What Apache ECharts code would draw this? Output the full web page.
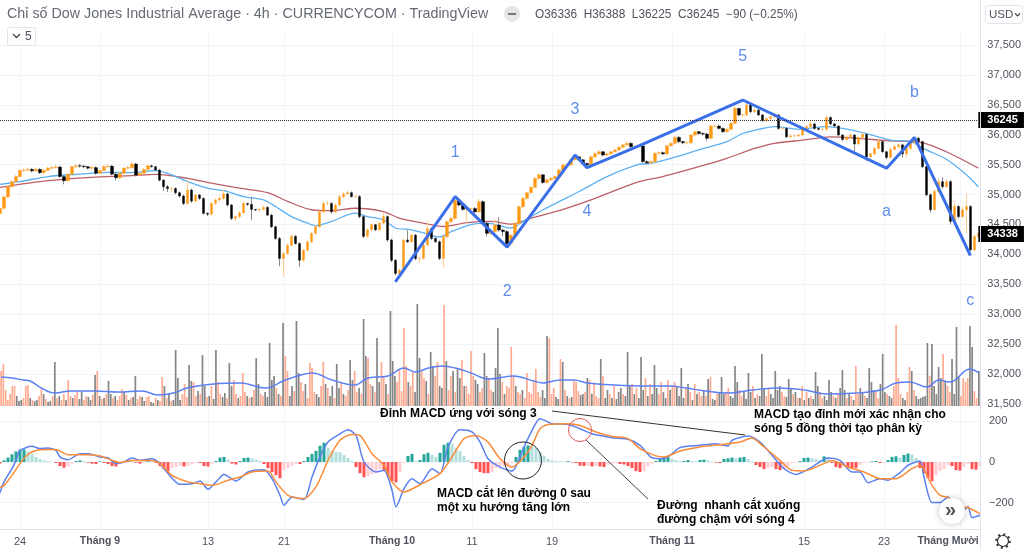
<!DOCTYPE html>
<html><head><meta charset="utf-8">
<style>html,body{margin:0;padding:0;background:#fff}#c{width:1024px;height:550px}</style>
<script src="https://cdn.jsdelivr.net/npm/echarts@6/dist/echarts.min.js"></script>
</head><body><div id="c"></div>
<script>
const closes=[34770,34960,35130,35215,35300,35400,35410,35420,35395,35420,
35365,35405,35440,35450,35460,35300,35230,35340,35465,35480,
35475,35465,35440,35450,35355,35400,35465,35475,35340,35280,
35355,35440,35450,35510,35325,35355,35420,35480,35465,35410,
35240,35130,35100,35100,35030,34975,34850,35075,34890,34990,
34935,34685,34670,34850,34910,34935,35010,34825,34600,34630,
34695,34850,34835,34750,34740,34750,34785,34655,34460,34265,
33930,34010,34150,34300,34180,33900,34070,34210,34350,34460,
34710,34850,34850,34710,34825,34965,35010,35030,34965,34965,
34630,34300,34410,34495,34410,34520,34630,34240,33900,33680,
33735,34240,34210,34320,33930,33930,34155,34430,34265,34210,
33930,34295,34545,34600,34905,34825,34750,34765,34765,34710,
34880,34515,34350,34380,34490,34405,34380,34180,34320,34515,
34795,34935,35030,35120,35270,35330,35200,35245,35270,35300,
35410,35495,35495,35580,35630,35580,35520,35495,35630,35680,
35715,35660,35680,35715,35745,35790,35830,35855,35800,35800,
35810,35550,35530,35550,35690,35700,35680,35815,35855,35955,
35885,35865,35865,35995,36050,36020,36010,35940,36145,36145,
36105,36050,36090,36190,36440,36330,36330,36495,36385,36410,
36330,36235,36270,36300,36330,36105,36105,35965,35980,35980,
35995,36105,36135,36180,36105,36090,36090,36290,36180,36145,
35995,35920,35965,35995,35845,35955,36005,35630,35680,35770,
35885,35715,35620,35755,35800,35830,35680,35770,35865,35940,
35885,35465,34995,34745,35050,35215,35130,35215,34550,34800,
34630,34745,34800,34075,34300,34355];
const opens=[34680,34770,34960,35130,35215,35300,35400,35410,35420,35395,
35420,35365,35405,35440,35450,35460,35300,35230,35340,35465,
35480,35475,35465,35440,35450,35355,35400,35465,35475,35340,
35280,35355,35440,35450,35510,35325,35355,35420,35480,35465,
35410,35240,35130,35100,35100,35030,34975,34850,35075,34890,
34990,34935,34685,34670,34850,34910,34935,35010,34825,34600,
34630,34695,34850,34835,34750,34740,34750,34785,34655,34460,
34265,33930,34010,34150,34300,34180,33900,34070,34210,34350,
34460,34710,34850,34850,34710,34825,34965,35010,35030,34965,
34965,34630,34300,34410,34495,34410,34520,34630,34240,33900,
33680,33735,34240,34210,34320,33930,33930,34155,34430,34265,
34210,33930,34295,34545,34600,34905,34825,34750,34765,34765,
34710,34880,34515,34350,34380,34490,34405,34380,34180,34320,
34515,34795,34935,35030,35120,35270,35330,35200,35245,35270,
35300,35410,35495,35495,35580,35630,35580,35520,35495,35630,
35680,35715,35660,35680,35715,35745,35790,35830,35855,35800,
35800,35810,35550,35530,35550,35690,35700,35680,35815,35855,
35955,35885,35865,35865,35995,36050,36020,36010,35940,36145,
36145,36105,36050,36090,36190,36440,36330,36330,36495,36385,
36410,36330,36235,36270,36300,36330,36105,36105,35965,35980,
35980,35995,36105,36135,36180,36105,36090,36090,36290,36180,
36145,35995,35920,35965,35995,35845,35955,36005,35630,35680,
35770,35885,35715,35620,35755,35800,35830,35680,35770,35865,
35940,35885,35465,34995,34745,35050,35215,35130,35215,34550,
34800,34630,34745,34800,34075,34300];
const highs=[34830,34990,35160,35240,35330,35430,35440,35450,35440,35450,
35440,35430,35470,35480,35500,35480,35320,35360,35480,35510,
35510,35490,35480,35480,35470,35420,35490,35510,35490,35360,
35380,35460,35480,35540,35530,35380,35440,35510,35500,35480,
35430,35260,35160,35130,35120,35050,35000,35240,35100,35010,
35010,34950,34700,34870,34930,34990,35080,35030,34840,34650,
34720,34880,34860,34960,34760,34770,34810,34800,34680,34480,
34290,34040,34180,34330,34320,34200,34090,34230,34370,34490,
34730,34880,34890,34870,34850,34990,35040,35070,35050,34990,
34990,34650,34430,34520,34510,34540,34690,34650,34260,33920,
33760,34260,34400,34350,34340,33960,34180,34560,34450,34290,
34230,34320,34570,34630,34980,34920,34850,34800,34790,34790,
34930,34900,34540,34420,34600,34620,34430,34400,34340,34540,
34820,34960,35050,35140,35290,35350,35340,35270,35290,35320,
35430,35510,35520,35600,35660,35640,35590,35530,35650,35710,
35750,35730,35700,35730,35770,35810,35850,35890,35870,35830,
35830,35830,35570,35570,35710,35730,35720,35830,35880,35980,
35980,35900,35890,36010,36070,36060,36040,36030,36170,36170,
36170,36120,36110,36210,36500,36450,36350,36530,36510,36440,
36430,36350,36290,36320,36370,36350,36130,36120,36000,36000,
36020,36130,36170,36240,36200,36120,36110,36320,36300,36200,
36160,36010,35990,36020,36010,35970,36050,36030,35700,35790,
35950,35900,35730,35780,35830,35850,35850,35790,35890,35960,
35960,35900,35480,35020,35080,35280,35290,35260,35240,34900,
34820,34800,35020,34820,34320,34380];
const lows=[34640,34750,34940,35110,35190,35280,35380,35390,35370,35380,
35340,35350,35390,35420,35430,35280,35170,35210,35320,35450,
35450,35440,35420,35420,35330,35340,35390,35450,35320,35240,
35260,35340,35420,35430,35300,35300,35340,35400,35450,35390,
35220,35060,35040,35040,35000,34950,34820,34830,34860,34870,
34910,34660,34640,34650,34830,34880,34910,34800,34570,34550,
34600,34670,34810,34570,34720,34720,34730,34640,34440,34240,
33800,33620,33990,34130,34160,33790,33880,34040,34180,34330,
34440,34690,34820,34680,34690,34800,34940,34990,34950,34940,
34600,34270,34280,34380,34390,34390,34500,34210,33870,33650,
33660,33710,34190,34190,33900,33850,33910,34130,34240,34190,
33900,33780,34270,34520,34580,34800,34730,34520,34730,34690,
34690,34490,34300,34320,34350,34380,34300,34120,34160,34300,
34490,34770,34910,35000,35100,35250,35180,35180,35220,35250,
35280,35390,35470,35480,35560,35560,35500,35470,35470,35610,
35660,35640,35640,35660,35700,35730,35770,35810,35780,35770,
35780,35530,35500,35510,35530,35670,35660,35660,35790,35830,
35860,35840,35840,35850,35970,36000,35990,35900,35920,36120,
36090,36030,36030,36070,36170,36310,36300,36310,36360,36360,
36310,36210,36220,36250,36280,36080,36080,35940,35950,35960,
35950,35970,36080,36110,36080,36070,36060,36070,36160,36120,
35970,35890,35900,35940,35720,35830,35930,35560,35610,35660,
35750,35700,35590,35600,35730,35780,35620,35610,35750,35840,
35860,35440,34970,34700,34730,35030,35100,35110,34500,34530,
34600,34610,34350,34050,34050,34180];

const maFast=[[0,35170],[5,35215],[12,35300],[21,35345],[27,35370],[33,35365],[39,35400],[43,35330],[47,35215],[52,35105],[57,35050],[61,34965],[66,34910],[69,34800],[73,34630],[77,34520],[79,34480],[83,34550],[89,34690],[92,34630],[96,34575],[99,34440],[103,34410],[107,34340],[110,34290],[113,34380],[118,34495],[122,34520],[128,34440],[131,34550],[136,34745],[145,35050],[152,35300],[160,35505],[163,35520],[168,35605],[175,35745],[182,35885],[186,36020],[190,36090],[194,36135],[200,36090],[207,36135],[211,36105],[216,36035],[223,35910],[228,35885],[232,35745],[237,35590],[242,35330],[245,35130]];
const maSlow=[[0,35120],[8,35200],[17,35260],[25,35295],[33,35315],[39,35335],[47,35270],[53,35190],[60,35105],[67,35030],[72,34885],[78,34745],[83,34730],[89,34770],[96,34715],[100,34605],[106,34520],[111,34465],[117,34530],[123,34550],[128,34505],[133,34605],[140,34730],[148,34910],[160,35215],[166,35300],[175,35465],[182,35605],[189,35770],[194,35855],[201,35910],[208,35965],[215,35940],[222,35900],[231,35865],[237,35715],[245,35440]];
const wave=[[99,33540],[114,34965],[127,34120],[144,35660],[147,35450],[160,35815],[186,36580],[222,35440],[229,35955],[243,33980]];
const waveTexts=[[114,35695,"1"],[127,33370,"2"],[144,36413,"3"],[147,34708,"4"],[186,37300,"5"],[222,34708,"a"],[229,36697,"b"],[243,33220,"c"]];

const volumes=[35,42,16,6,12,20, 20,-10,-5,-6,8,20, 21,-8,6,-5,-6,10, 17,-12,7,-4,-5,10, -44,8,-10,6,12,-6, 26,10,-8,11,14,-7,
-14,6,10,-9,-6,11, -31,35,-10,7,-8,12, -25,-12,8,-10,6,10, 17,-14,11,-6,8,-9, -30,7,10,-9,-5,9, 10,-4,-3,8,-6,5,
29,-20,8,-12,5,-6, -56,-28,-6,12,22,9, -41,-25,24,10,-15,12, -51,-20,9,-10,20,-7, -56,24,12,-9,-13,8, -43,-20,26,12,-8,10,
33,14,-10,8,-9,16, -48,-22,12,10,-14,-9, -63,-26,-30,18,-12,10, -83,50,35,-10,-20,15, -85,-33,24,15,-22,8, 43,38,14,-12,-9,20,
44,-22,18,-10,-20,8, -42,-18,24,-12,10,16, -46,-26,35,14,-18,12, -87,-50,48,22,-20,14, -68,-24,44,30,-22,12, -95,-45,-30,24,36,15,
78,40,-24,20,35,-14, -102,-48,36,28,-25,12, -54,-40,30,44,-20,-18, 101,-45,16,30,-35,14, -38,-28,46,-20,20,12, 55,30,-26,-22,14,18,
-53,-30,28,16,-14,-38, -78,-32,24,-12,20,18, 59,30,-20,14,12,-16, 8,33,14,12,
25,37,14,9,-16,-8, -70,68,12,18,-9,-7, 47,-44,16,-10,8,-9, 25,24,15,-11,-12,14, -28,26,-12,22,10,8, -47,30,-8,-16,12,-8,
20,-7,-14,-18,12,-10, -54,-20,22,-12,18,-8, -49,-16,28,-10,22,-12, -41,-18,12,24,-14,-8, 26,-16,20,24,-20,-10, -38,-8,18,-22,14,-6,
22,-12,14,10,-16,10, -27,29,-7,-6,12,-14, -29,-12,14,18,-10,-8, -40,-24,16,10,-14,-7, -33,-14,20,-8,12,-10, -52,-18,10,18,-12,-8,
-35,-16,-20,14,10,-9, -27,-18,12,-14,8,-8, 20,-6,14,-8,10,-7, -34,-20,14,8,-10,-6, -26,-14,10,-8,12,-18, -36,-16,8,-12,10,-6,
40,12,-18,-14,10,-8, -38,-24,-16,14,8,-22, -52,-14,12,-10,-8,20, 81,28,12,-8,-6,14, 39,-35,16,-10,-7,-8,
-9,-10,-63,30,-62,-20,-12,-39,-28,52,-25,20,14,-47,-12,-79,-30,10,28,24,28,-80,-59,15,8,-35];
const volMA=[[0,29],[5,28],[10,26],[13,25],[18,18],[24,13],[31,15],[42,15],[52,14],[63,15],[70,11],[77,13],[83,18],[95,22],[107,23],[118,18],[127,26],[134,31],[139,33],[148,26],[158,21],[164,28],[173,30],[180,38],[185,34],[191,38],[197,40],[203,38],[210,33],[218,27],[229,30],[238,25],[242,23],[250,26],[256,26],[262,23],[274,21],[289,20],[299,20],[306,18],[315,15],[324,13],[336,16],[347,18],[359,16],[369,12],[382,13],[393,16],[400,23],[406,24],[414,19],[419,26],[424,24],[433,37],[437,33]];

const macdFast=[[0,-152],[1,-98],[3,-33],[4,8],[5,57],[8,77],[10,66],[12,69],[14,57],[15,25],[17,11],[20,41],[22,41],[25,25],[27,21],[29,-8],[31,0],[33,20],[35,8],[38,16],[40,-8],[42,-57],[45,-110],[48,-107],[50,-93],[52,-134],[54,-98],[56,-61],[59,-93],[62,-49],[66,-38],[68,-82],[70,-164],[71,-213],[73,-172],[76,-185],[78,-74],[80,25],[82,98],[85,139],[87,159],[89,131],[91,0],[94,-49],[96,-41],[98,-139],[99,-221],[101,-131],[103,-82],[105,-107],[108,-33],[110,-57],[112,74],[115,159],[118,148],[120,98],[122,16],[125,-25],[128,-45],[131,74],[133,156],[135,213],[138,189],[142,185],[145,164],[148,139],[153,120],[157,112],[160,82],[163,21],[166,16],[170,71],[175,82],[179,90],[182,79],[183,107],[187,128],[190,98],[193,33],[196,-33],[199,-61],[203,-25],[207,20],[210,8],[213,-49],[215,-49],[217,-102],[220,-82],[222,-90],[225,-52],[227,-16],[230,5],[231,-74],[233,-200],[235,-200],[237,-172],[240,-254],[242,-221],[243,-274],[245,-262]];
const macdSlow=[[0,-123],[1,-115],[3,-66],[5,-8],[7,38],[9,57],[12,62],[14,62],[17,36],[21,36],[25,30],[28,8],[30,-3],[33,8],[38,8],[40,-8],[43,-66],[47,-98],[50,-107],[53,-115],[57,-90],[60,-74],[63,-49],[67,-44],[69,-98],[72,-164],[76,-180],[79,-123],[82,8],[85,107],[88,136],[90,131],[93,41],[96,-16],[98,-98],[101,-148],[105,-112],[110,-57],[113,25],[116,115],[119,131],[122,98],[125,16],[128,-25],[131,25],[133,82],[135,164],[137,185],[142,189],[145,180],[149,148],[153,126],[157,115],[160,66],[164,30],[166,25],[170,54],[175,74],[181,87],[185,98],[188,118],[191,74],[195,8],[198,-41],[201,-44],[206,-8],[208,8],[212,-25],[216,-49],[220,-82],[224,-82],[228,-33],[230,-16],[233,-115],[235,-164],[237,-175],[240,-221],[242,-225],[245,-254]];
const macdHist=[-8,8,22,38,52,62,62,50,38,25,15,8,4,2,-5,-20,-28,-22,-8,5,8,4,-3,-8,-10,3,-5,-10,-20,-22,-5,4,6,3,-4,-8,-3,4,2,-5,
-20,-35,-45,-30,-25,-18,-22,-20,-12,-2,-5,-20,-22,-8,5,22,25,12,-8,-12,5,20,22,18,12,6,-10,-30,-50,-65,-80,-40,-30,-18,-10,-10,5,25,40,55,
80,95,70,55,50,48,35,20,5,-25,-55,-75,-70,-60,-50,-35,-45,-70,-95,-100,-50,-5,30,40,5,10,38,45,35,25,45,85,95,90,70,55,30,10,-5,-35,
-50,-55,-55,-50,-30,-25,-20,-15,-5,25,60,75,82,80,70,50,30,15,8,5,4,3,4,-2,-5,-18,-20,-18,-22,-20,-22,-25,-12,-8,-5,-10,-12,-20,-30,-45,
-50,-45,-20,-8,5,15,25,25,15,10,5,5,10,5,4,10,12,8,3,-3,-5,15,18,22,18,22,25,15,5,-15,-25,-35,-30,-25,-35,-40,-35,-20,-5,-3,
5,20,22,18,15,10,28,25,-5,-25,-30,-15,-25,-30,-30,-15,-5,-3,3,5,-5,-3,10,25,28,22,35,42,38,20,-30,-55,-80,-95,-65,-45,-35,-15,-20,-40,-42,-25,-10,-35,-38,-20];

const priceTicks=[31500,37500];
const dayTickIndex=[5,25,52,71,98,118,138,168,201,221,240];
const dayLabelIndex=[5,25,52,71,98,118,138,168,201,221,237];
const dayLabels=["24","Tháng 9","13","21","Tháng 10","11","19","Tháng 11","15","23","Tháng Mười"];
const lastPrice=36245, currentPrice=34338;

const N=closes.length;
const idx=Array.from({length:N},(_,i)=>i);
const labelNames=idx.map(i=>{const k=dayLabelIndex.indexOf(i);return k<0?'':dayLabels[k];});
const wickData=idx.map(i=>[opens[i],closes[i],lows[i],highs[i]]);
const bodyData=idx.map(i=>[opens[i],closes[i],Math.min(opens[i],closes[i]),Math.max(opens[i],closes[i])]);
const volIdx=volumes.map((_,i)=>i);
const GRID='#f0f3fa', AX='#e0e3eb', TXT='#50535e', FONT='"Liberation Sans",Arial,sans-serif';
const BLUE='#3a6fe8';
const histColor=i=>{const v=macdHist[i],p=i?macdHist[i-1]:0;
  return v>=0?(v>=p?'#26a69a':'#b2dfdb'):(v<=p?'#ff5252':'#ffcdd2');};
const t=(x,y,text,o={})=>({type:'text',x,y,z:50,style:Object.assign({text,fill:'#000',font:'bold 12px '+FONT,textVerticalAlign:'middle'},o)});
const chart=echarts.init(document.getElementById('c'),null,{renderer:'canvas'});
const L=0,R=44;
chart.setOption({
 animation:false,
 grid:[
  {left:L,right:R,top:30,height:499},
  {left:L,right:R,top:45,height:358.8},
  {left:L,right:R,top:296,height:110},
  {left:L,right:R,top:421.4,height:81.2}],
 xAxis:[
  {gridIndex:0,type:'category',data:labelNames,boundaryGap:false,
   axisLine:{lineStyle:{color:AX}},axisTick:{show:false},
   splitLine:{show:true,interval:(i)=>dayTickIndex.includes(i),lineStyle:{color:GRID}},
   axisLabel:{interval:(i)=>dayLabelIndex.includes(i),margin:7,color:TXT,fontSize:11,fontFamily:FONT,hideOverlap:false,
     formatter:(v)=>v.startsWith('Tháng')?'{b|'+v+'}':v,rich:{b:{fontWeight:'bold',color:TXT,fontSize:10.5,fontFamily:FONT}}}},
  {gridIndex:1,type:'category',data:idx,boundaryGap:false,show:false,containShape:false},
  {gridIndex:2,type:'category',data:volIdx,show:false,containShape:false},
  {gridIndex:3,type:'category',data:idx,boundaryGap:false,show:false,containShape:false}],
 yAxis:[
  {gridIndex:0,type:'value',show:false,min:0,max:1},
  {gridIndex:1,type:'value',position:'right',min:priceTicks[0],max:priceTicks[1],interval:500,scale:true,
   axisLine:{show:false},axisTick:{show:false},splitLine:{lineStyle:{color:GRID}},
   axisLabel:{color:TXT,fontSize:11,fontFamily:FONT,margin:9}},
  {gridIndex:2,type:'value',show:false,min:0,max:110},
  {gridIndex:3,type:'value',position:'right',min:-200,max:200,interval:200,
   axisLine:{show:false},axisTick:{show:false},splitLine:{lineStyle:{color:GRID}},
   axisLabel:{color:TXT,fontSize:11,fontFamily:FONT,margin:9,formatter:v=>String(v).replace('-','−')}}],
 series:[
  {type:'bar',name:'Volume',xAxisIndex:2,yAxisIndex:2,barWidth:1.7,z:2,silent:true,
   data:volumes.map(v=>({value:Math.abs(v),itemStyle:{color:v<0?'#858585':'#ffab91'}}))},
  {type:'line',name:'Volume MA',xAxisIndex:2,yAxisIndex:2,data:volMA,smooth:0.4,showSymbol:false,z:3,silent:true,
   lineStyle:{color:'#5b7ff5',width:1.4}},
  {type:'line',name:'MA slow',xAxisIndex:1,yAxisIndex:1,data:maSlow,smooth:0.3,showSymbol:false,z:4,silent:true,lineStyle:{color:'#bd5f68',width:1.3}},
  {type:'line',name:'MA fast',xAxisIndex:1,yAxisIndex:1,data:maFast,smooth:0.3,showSymbol:false,z:4,silent:true,lineStyle:{color:'#5cb0f2',width:1.3}},
  {type:'candlestick',name:'Wicks',xAxisIndex:1,yAxisIndex:1,data:wickData,barWidth:1,z:5,silent:true,
   itemStyle:{color:'#ffcf94',color0:'#8a8a8a',borderColor:'#ffcf94',borderColor0:'#8a8a8a',borderWidth:1},
   markLine:{silent:true,symbol:'none',z:20,animation:false,
    label:{position:'end',distance:0,backgroundColor:'#000',color:'#fff',fontWeight:'bold',fontSize:11,fontFamily:FONT,padding:[3,6,2,9],formatter:p=>p.value},
    data:[{yAxis:lastPrice,lineStyle:{color:'#333',type:'dotted',width:1}},
          {yAxis:currentPrice,lineStyle:{color:'rgba(0,0,0,0)',width:1}}]}},
  {type:'candlestick',name:'Price',xAxisIndex:1,yAxisIndex:1,data:bodyData,barWidth:3,z:6,silent:true,
   itemStyle:{color:'#ff9a17',color0:'#000',borderColor:'#ff9a17',borderColor0:'#000',borderWidth:0.4}},
  {type:'line',name:'Elliott',xAxisIndex:1,yAxisIndex:1,data:wave,showSymbol:false,z:8,silent:true,lineStyle:{color:BLUE,width:3}},
  {type:'scatter',name:'Wave labels',xAxisIndex:1,yAxisIndex:1,symbolSize:0,z:9,silent:true,data:waveTexts,
   label:{show:true,position:'inside',color:BLUE,fontSize:16,fontFamily:FONT,formatter:p=>p.value[2]}},
  {type:'bar',name:'Histogram',xAxisIndex:3,yAxisIndex:3,barWidth:3,z:2,silent:true,
   data:macdHist.map((v,i)=>({value:v,itemStyle:{color:histColor(i)}}))},
  {type:'line',name:'MACD',xAxisIndex:3,yAxisIndex:3,data:macdFast,smooth:0.25,showSymbol:false,clip:false,z:4,silent:true,lineStyle:{color:'#5b80f0',width:1.5}},
  {type:'line',name:'Signal',xAxisIndex:3,yAxisIndex:3,data:macdSlow,smooth:0.25,showSymbol:false,clip:false,z:5,silent:true,lineStyle:{color:'#fb8c3a',width:1.5}}
 ],
 graphic:[
  {type:'line',z:40,shape:{x1:980.5,y1:0,x2:980.5,y2:550},style:{stroke:AX,lineWidth:1}},
  t(7,14,'Chỉ số Dow Jones Industrial Average · 4h · CURRENCYCOM · TradingView',{fill:'#666a75',font:'14.3px '+FONT}),
  t(535,15,'O36336  H36388  L36225  C36245  −90 (−0.25%)',{fill:'#50535e',font:'11.85px '+FONT}),
  {type:'circle',z:40,shape:{cx:512,cy:14,r:8},style:{fill:'#e6e6e8'}},
  {type:'line',z:41,shape:{x1:508,y1:14,x2:516,y2:14},style:{stroke:'#777',lineWidth:2}},
  {type:'rect',z:40,shape:{x:7.5,y:27.5,width:28,height:18,r:2},style:{fill:'#fff',stroke:AX}},
  {type:'polyline',z:41,shape:{points:[[13,34],[16.5,37.5],[20,34]]},style:{stroke:'#444',fill:'none',lineWidth:1.3}},
  t(25,37,'5',{fill:'#50535e',font:'12px '+FONT}),
  {type:'rect',z:40,shape:{x:985.5,y:5.5,width:37,height:18,r:3},style:{fill:'#fff',stroke:AX}},
  t(989,15,'USD',{fill:'#50535e',font:'11.5px '+FONT}),
  {type:'polyline',z:41,shape:{points:[[1015,13.5],[1017.5,16],[1020,13.5]]},style:{stroke:'#444',fill:'none',lineWidth:1.2}},
  t(380,414,'Đỉnh MACD ứng với sóng 3'),
  t(754,415,'MACD tạo đỉnh mới xác nhận cho'),
  t(754,429,'sóng 5 đồng thời tạo phân kỳ'),
  t(437,494,'MACD cắt lên đường 0 sau'),
  t(437,508,'một xu hướng tăng lớn'),
  t(657,506,'Đường  nhanh cắt xuống'),
  t(657,520,'đường chậm với sóng 4'),
  {type:'line',z:30,shape:{x1:552,y1:411,x2:745,y2:435},style:{stroke:'#333',lineWidth:1}},
  {type:'line',z:30,shape:{x1:586,y1:440,x2:648,y2:499},style:{stroke:'#444',lineWidth:1}},
  {type:'circle',z:30,shape:{cx:523,cy:460.5,r:18.5},style:{fill:'none',stroke:'#222',lineWidth:1}},
  {type:'circle',z:30,shape:{cx:580,cy:430,r:11.5},style:{fill:'none',stroke:'#e05a5a',lineWidth:1}},
  {type:'circle',z:44,shape:{cx:952,cy:511,r:13},style:{fill:'#fff',shadowBlur:6,shadowColor:'rgba(0,0,0,0.25)'}},
  t(945,510,'»',{fill:'#555',font:'bold 20px '+FONT}),
  {type:'circle',z:40,shape:{cx:1003,cy:541,r:5.5},style:{fill:'none',stroke:'#333',lineWidth:1.2}},
  {type:'circle',z:40,shape:{cx:1003,cy:541,r:6.6},style:{fill:'none',stroke:'#333',lineWidth:2.4,lineDash:[2,3.2]}}
 ]
});
</script></body></html>
